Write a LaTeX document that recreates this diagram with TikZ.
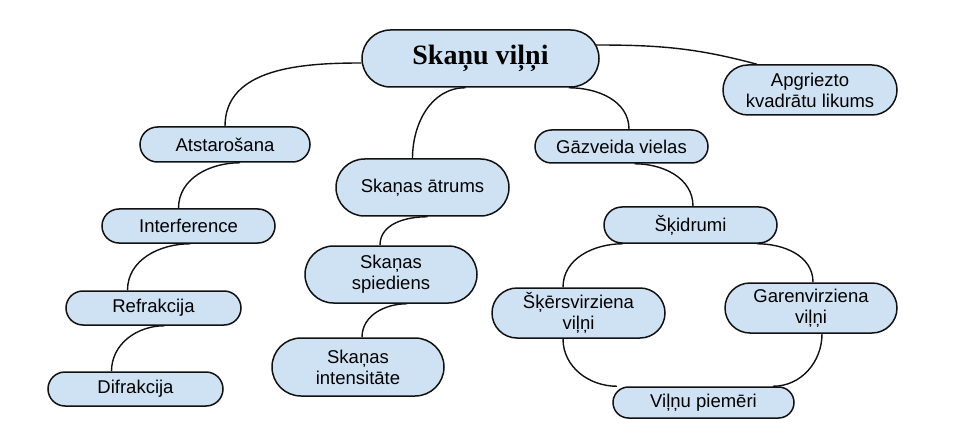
\documentclass[tikz,border=0pt]{standalone}
\usepackage{fontspec}
\setmainfont{Liberation Serif}
\newfontfamily\labelfont{Liberation Sans}
\definecolor{nodeblue}{HTML}{CFE2F3}
\definecolor{inkline}{HTML}{111111}
\tikzset{
  pill/.style={draw=inkline, fill=nodeblue, line width=1.5pt, align=center, inner sep=0pt,
    font=\labelfont\fontsize{18.5}{21}\selectfont, text=black},
  link/.style={draw=inkline, line width=1.4pt},
}
\begin{document}
\begin{tikzpicture}[x=1pt,y=-1pt]
\useasboundingbox (0,0) rectangle (957,438);
% nodes
\node[pill, minimum width=237pt, minimum height=57pt, rounded corners=28.5pt,
      font=\bfseries\fontsize{28}{31}\selectfont] (main) at (480.5,58.5) {Skaņu viļņi};
\node[pill, minimum width=174pt, minimum height=50pt, rounded corners=25pt] (apg) at (810,90) {Apgriezto\\kvadrātu likums};
\node[pill, minimum width=170pt, minimum height=35pt, rounded corners=17.5pt] (atst) at (225,144.5) {Atstarošana};
\node[pill, minimum width=173pt, minimum height=34pt, rounded corners=17pt] (interf) at (188.5,226) {Interference};
\node[pill, minimum width=175pt, minimum height=34pt, rounded corners=17pt] (refr) at (153.5,308) {Refrakcija};
\node[pill, minimum width=175pt, minimum height=34pt, rounded corners=17pt] (difr) at (135.5,389) {Difrakcija};
\node[pill, minimum width=173pt, minimum height=57pt, rounded corners=28.5pt] (atrums) at (422.5,187.5) {Skaņas ātrums};
\node[pill, minimum width=172pt, minimum height=57pt, rounded corners=28.5pt] (spied) at (391,274.5) {Skaņas\\spiediens};
\node[pill, minimum width=172pt, minimum height=58pt, rounded corners=29pt] (intens) at (358,367) {Skaņas\\intensitāte};
\node[pill, minimum width=173pt, minimum height=33pt, rounded corners=16.5pt] (gaz) at (621.5,146.5) {Gāzveida vielas};
\node[pill, minimum width=173pt, minimum height=36pt, rounded corners=18pt] (skid) at (690.5,225) {Šķidrumi};
\node[pill, minimum width=173pt, minimum height=50pt, rounded corners=25pt] (skers) at (578.5,313) {Šķērsvirziena\\viļņi};
\node[pill, minimum width=172pt, minimum height=50pt, rounded corners=25pt] (garen) at (811,308) {Garenvirziena\\viļņi};
\node[pill, minimum width=181pt, minimum height=31pt, rounded corners=15.5pt] (vilnu) at (703.5,402.5) {Viļņu piemēri};
% connectors
\draw[link] ([yshift=-4.5pt]main.west) to[out=180,in=90] (atst.north);
\draw[link] ([xshift=-4pt,yshift=13.5pt]main.east) to[out=0,in=165] ([xshift=-53pt]apg.north);
\draw[link] ([xshift=-10pt]atrums.north) to[out=90,in=180] ([xshift=-15pt]main.south);
\draw[link] ([xshift=-31pt]main.south east) to[out=0,in=90] ([xshift=7.5pt]gaz.north);
\draw[link] ([xshift=15pt]atst.south) to[out=180,in=90] ([xshift=-10pt]interf.north);
\draw[link] ([xshift=2pt]interf.south) to[out=180,in=90] ([xshift=-26pt]refr.north);
\draw[link] ([xshift=11pt]refr.south) to[out=180,in=90] ([xshift=-24pt]difr.north);
\draw[link] ([xshift=5pt]atrums.south) to[out=180,in=90] ([xshift=-11pt]spied.north);
\draw[link] ([xshift=16pt]spied.south) to[out=180,in=90] ([xshift=4pt]intens.north);
\draw[link] ([xshift=13pt]gaz.south) to[out=0,in=90] ([xshift=2.5pt]skid.north);
\draw[link] ([xshift=-67.5pt]skid.south) to[out=180,in=90] ([xshift=-15.5pt]skers.north);
\draw[link] ([xshift=66.5pt]skid.south) to[out=0,in=90] ([xshift=2pt]garen.north);
\draw[link] ([xshift=-15.5pt]skers.south) to[out=-90,in=180] ([xshift=-86.5pt]vilnu.north);
\draw[link] ([xshift=11pt]garen.south) to[out=-90,in=0] ([xshift=69.5pt]vilnu.north);
\end{tikzpicture}
\end{document}
